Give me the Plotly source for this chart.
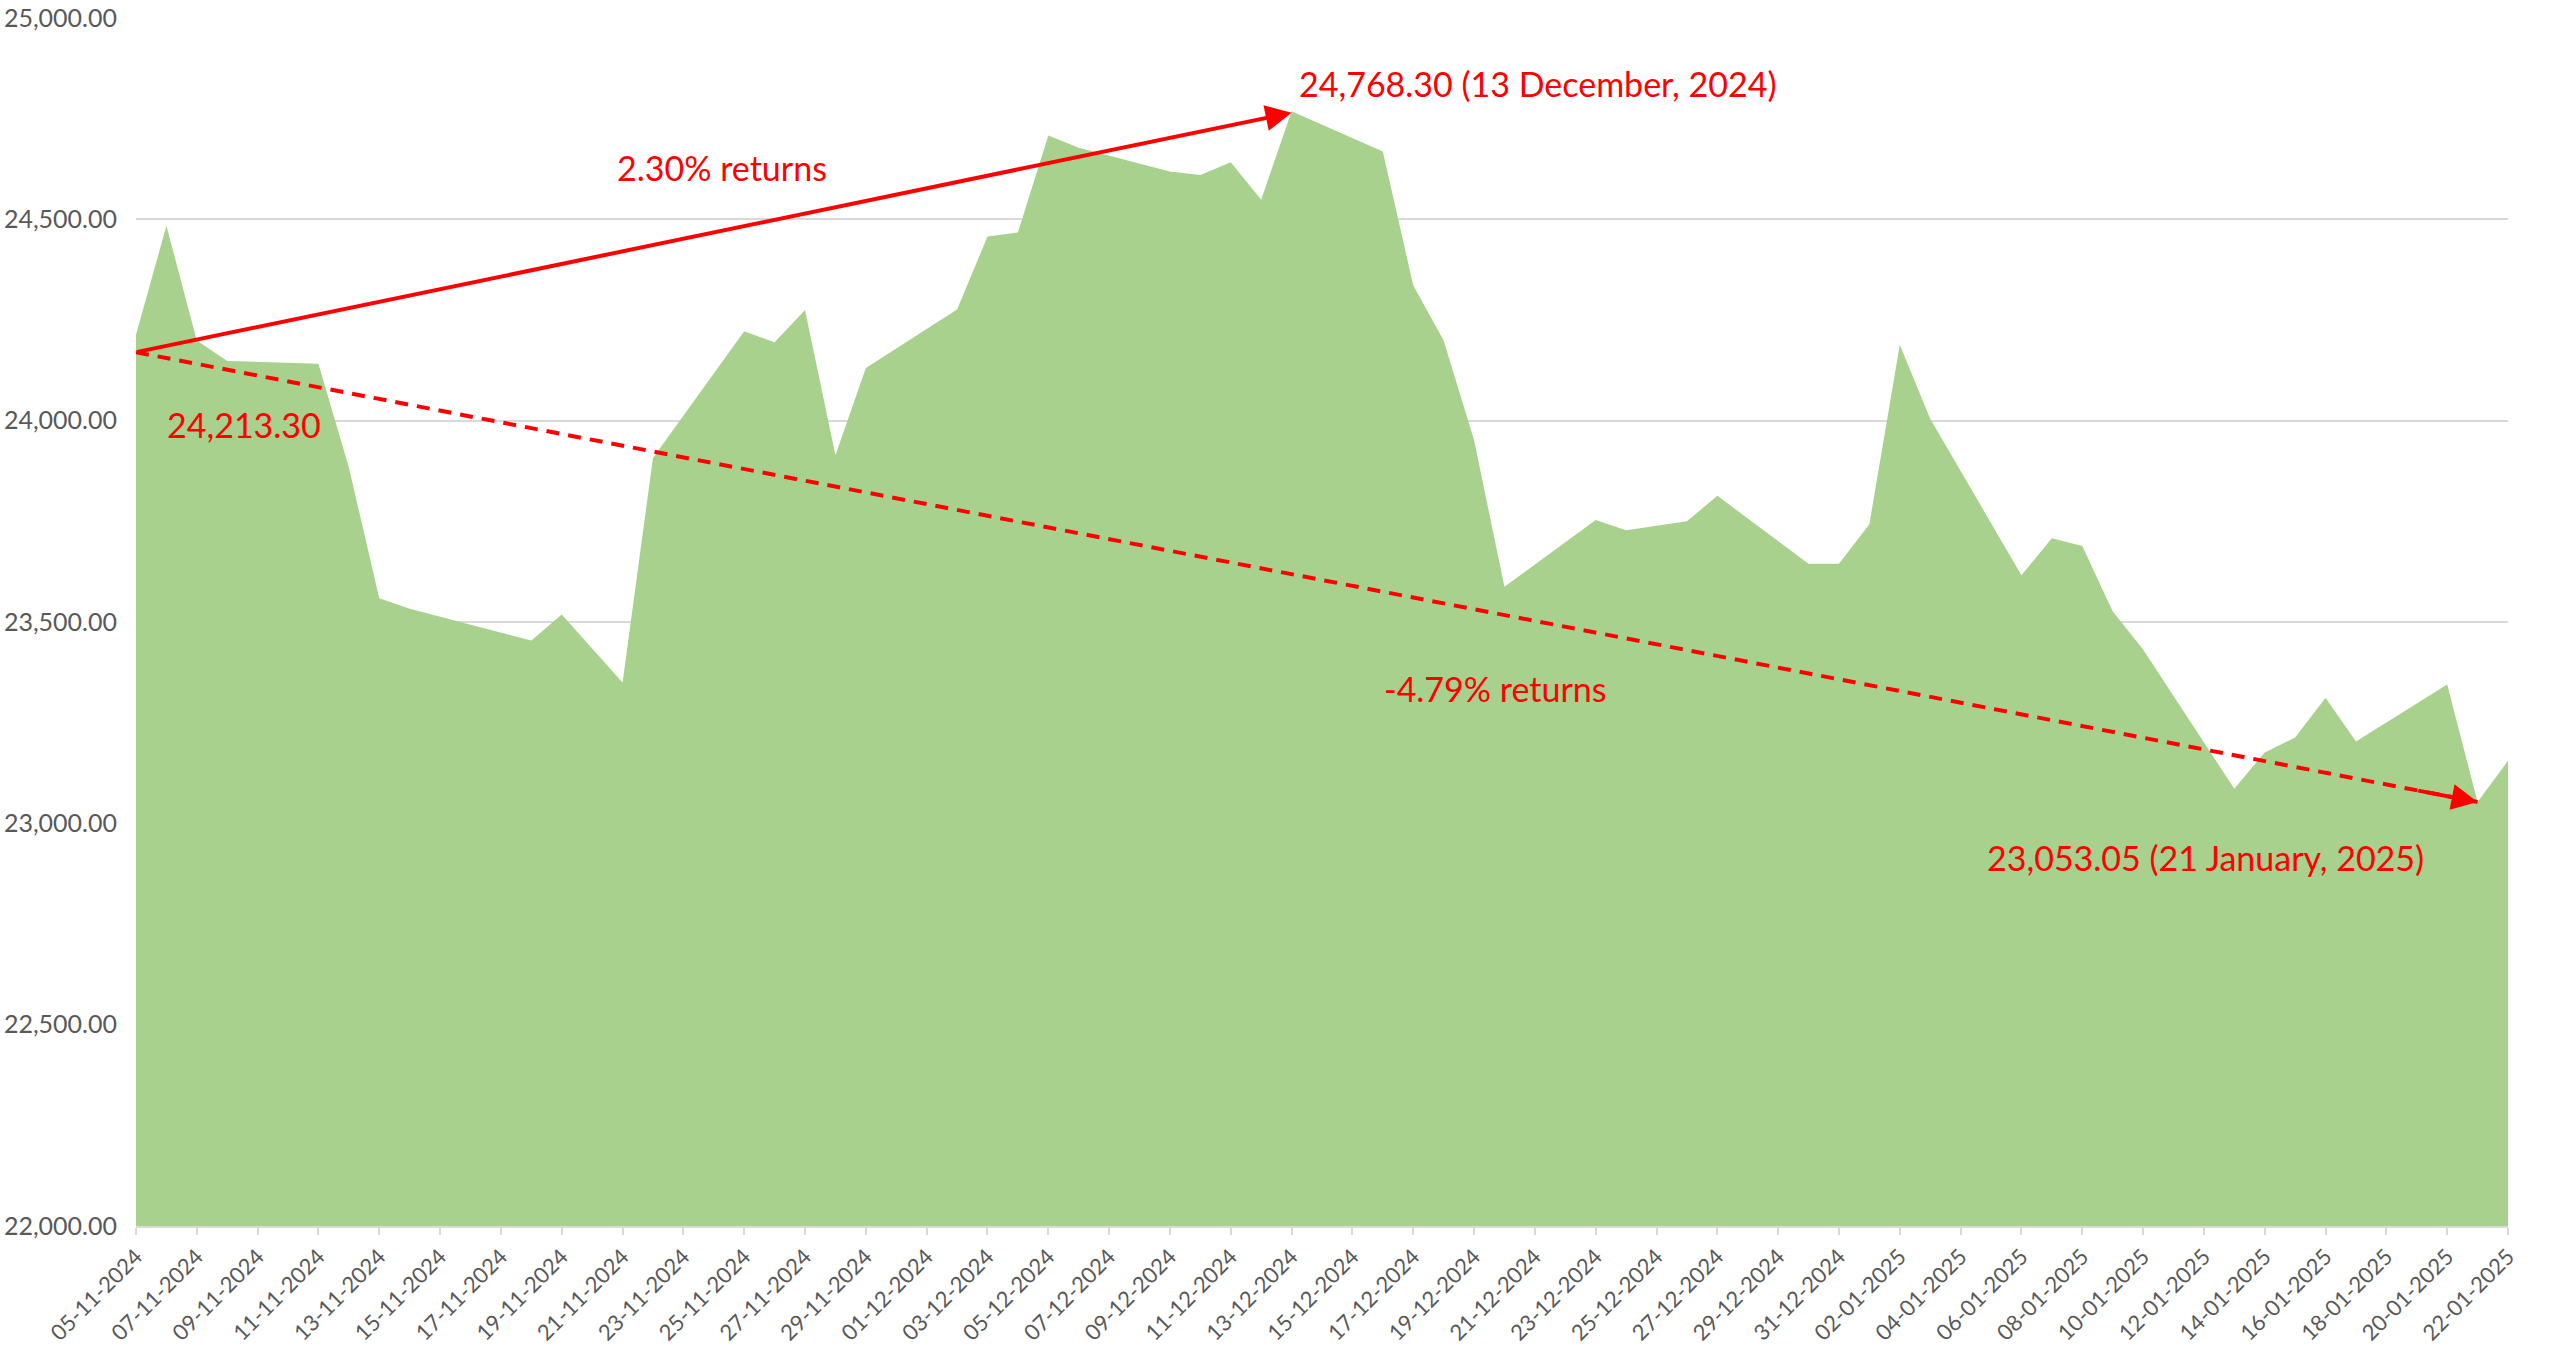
import plotly.graph_objects as go

dates = ["2024-11-05","2024-11-06","2024-11-07","2024-11-08","2024-11-11","2024-11-12","2024-11-13","2024-11-14",
         "2024-11-18","2024-11-19","2024-11-21","2024-11-22","2024-11-25","2024-11-26","2024-11-27","2024-11-28",
         "2024-11-29","2024-12-02","2024-12-03","2024-12-04","2024-12-05","2024-12-06","2024-12-09","2024-12-10",
         "2024-12-11","2024-12-12","2024-12-13","2024-12-16","2024-12-17","2024-12-18","2024-12-19","2024-12-20",
         "2024-12-23","2024-12-24","2024-12-26","2024-12-27","2024-12-30","2024-12-31","2025-01-01","2025-01-02",
         "2025-01-03","2025-01-06","2025-01-07","2025-01-08","2025-01-09","2025-01-10","2025-01-13","2025-01-14",
         "2025-01-15","2025-01-16","2025-01-17","2025-01-20","2025-01-21","2025-01-22"]
closes = [24213.30, 24484.05, 24199.35, 24148.20, 24141.30, 23883.45, 23559.05, 23532.70,
          23453.80, 23518.50, 23349.90, 23907.25, 24221.90, 24194.50, 24274.90, 23914.15,
          24131.10, 24276.05, 24457.15, 24467.45, 24708.40, 24677.80, 24619.00, 24610.05,
          24641.80, 24548.70, 24768.30, 24668.25, 24336.00, 24198.85, 23951.70, 23587.50,
          23753.45, 23727.65, 23750.20, 23813.40, 23644.90, 23644.80, 23742.90, 24188.65,
          24004.75, 23616.05, 23707.90, 23688.95, 23526.50, 23431.50, 23085.95, 23176.05,
          23213.20, 23311.80, 23203.20, 23344.75, 23053.05, 23155.35]

# arrow endpoints (as drawn in the chart)
arrow_start = ("2024-11-05", 24170)
arrow_peak = ("2024-12-13", 24765)
arrow_low = ("2025-01-21", 23053)
arrow_low_tail = ("2025-01-19", 23082)

labels = [
    ("24,768.30 (13 December, 2024)", "2024-12-13 04:00", 24838),
    ("2.30% returns", "2024-11-20 18:00", 24628),
    ("24,213.30", "2024-11-05 23:00", 23990),
    ("-4.79% returns", "2024-12-15 23:00", 23335),
    ("23,053.05 (21 January, 2025)", "2025-01-04 19:00", 22914),
]

RED = "#FF0000"
FONT = "Lato"

fig = go.Figure()
fig.add_trace(go.Scatter(
    x=dates, y=closes, mode="lines", fill="tozeroy",
    line=dict(width=0, color="#A9D18E"), fillcolor="#A9D18E",
    hoverinfo="x+y", showlegend=False,
))
# dashed trend line
fig.add_trace(go.Scatter(
    x=[arrow_start[0], arrow_low[0]], y=[arrow_start[1], arrow_low[1]],
    mode="lines", line=dict(color=RED, width=4, dash="13px,9px"),
    showlegend=False, hoverinfo="skip",
))

annotations = []
annotations.append(dict(
    x=arrow_peak[0], y=arrow_peak[1], ax=arrow_start[0], ay=arrow_start[1],
    xref="x", yref="y", axref="x", ayref="y", text="", showarrow=True,
    arrowhead=2, arrowsize=1.3, arrowwidth=4, arrowcolor=RED, standoff=0,
))
annotations.append(dict(
    x=arrow_low[0], y=arrow_low[1], ax=arrow_low_tail[0], ay=arrow_low_tail[1],
    xref="x", yref="y", axref="x", ayref="y", text="", showarrow=True,
    arrowhead=2, arrowsize=1.3, arrowwidth=4, arrowcolor=RED, standoff=0,
))
for txt, xx, yy in labels:
    annotations.append(dict(
        x=xx, y=yy, xref="x", yref="y", text=txt, showarrow=False,
        xanchor="left", yanchor="middle",
        font=dict(family=FONT, size=34, color=RED),
    ))

fig.update_layout(
    width=2552, height=1359,
    margin=dict(l=136, r=44, t=18, b=133),
    paper_bgcolor="white", plot_bgcolor="white",
    font=dict(family=FONT, color="#595959"),
    annotations=annotations,
    showlegend=False,
)
fig.update_xaxes(
    type="date", range=["2024-11-05", "2025-01-22"],
    tick0="2024-11-05", dtick=2 * 86400000, tickformat="%d-%m-%Y",
    tickangle=-45, tickfont=dict(family=FONT, size=22, color="#595959"),
    showgrid=False, showline=True, linecolor="#D9D9D9", linewidth=2,
    ticks="outside", ticklen=7, tickcolor="#D9D9D9", tickwidth=2,
    zeroline=False, automargin=False,
)
fig.update_yaxes(
    range=[22000, 25000], dtick=500, tick0=22000, tickformat=",.2f",
    tickfont=dict(family=FONT, size=25, color="#595959"),
    showgrid=True, gridcolor="#D9D9D9", gridwidth=2,
    zeroline=False, showline=False, ticks="", ticklabelstandoff=18,
    automargin=False,
)

fig.write_html("out.html", config={"displayModeBar": False},
               post_script="document.body.style.margin='0';")
